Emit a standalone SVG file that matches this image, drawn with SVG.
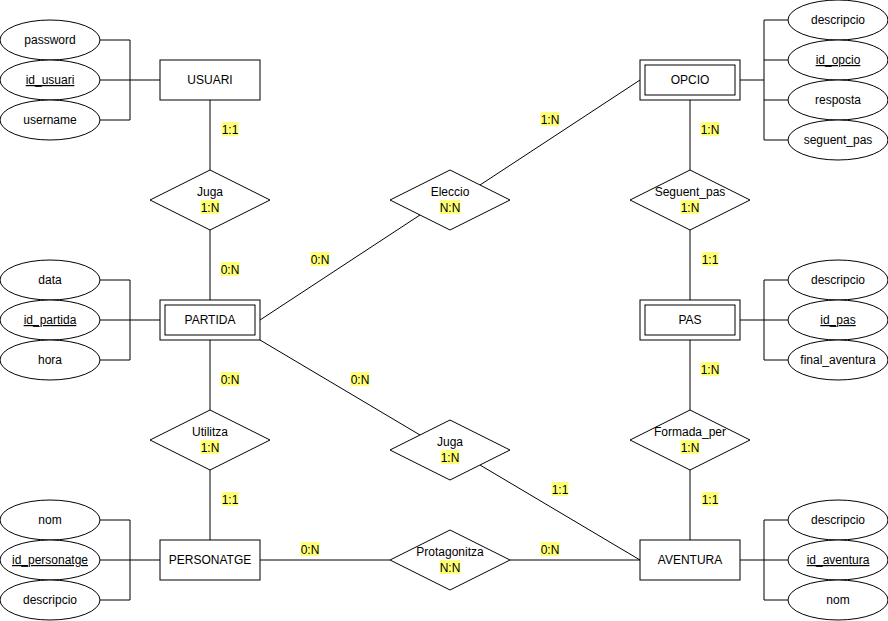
<svg xmlns="http://www.w3.org/2000/svg" width="888" height="621" viewBox="0 0 888 621">
<style>
text{font-family:"Liberation Sans",Arial,sans-serif;font-size:12px;fill:#000;text-anchor:middle}
.s{fill:#fff;stroke:#000;stroke-width:1}
.l{fill:none;stroke:#000;stroke-width:1}
.hl{fill:#ffff77}
.u{text-decoration:underline}
</style>
<rect width="888" height="621" fill="#fff"/>
<g id="connectors">
<path class="l" d="M100,40H130V120H100M100,80H160"/>
<path class="l" d="M100,280H130V360H100M100,320H160"/>
<path class="l" d="M100,520H130V600H100M100,560H160"/>
<path class="l" d="M788,20H764V140H788M788,60H764M788,100H764M740,80H764"/>
<path class="l" d="M788,280H764V360H788M740,320H788"/>
<path class="l" d="M788,520H764V600H788M740,560H788"/>
<path class="l" d="M210,100V170M210,230V300M210,340V410M210,470V540"/>
<path class="l" d="M690,100V170M690,230V300M690,340V410M690,470V540"/>
<path class="l" d="M260,560H390M510,560H640"/>
<path class="l" d="M260,320L420,215M480,185L640,80"/>
<path class="l" d="M260,340L420,435M480,465L640,560"/>
<g id="edge-labels">
<rect class="hl" x="221.6" y="122" width="16.8" height="14"/><text x="230" y="133.5">1:1</text>
<rect class="hl" x="220.6" y="262" width="18.8" height="14"/><text x="230" y="273.5">0:N</text>
<rect class="hl" x="220.6" y="372" width="18.8" height="14"/><text x="230" y="383.5">0:N</text>
<rect class="hl" x="221.6" y="492" width="16.8" height="14"/><text x="230" y="503.5">1:1</text>
<rect class="hl" x="300.6" y="542" width="18.8" height="14"/><text x="310" y="553.5">0:N</text>
<rect class="hl" x="540.6" y="542" width="18.8" height="14"/><text x="550" y="553.5">0:N</text>
<rect class="hl" x="310.6" y="252" width="18.8" height="14"/><text x="320" y="263.5">0:N</text>
<rect class="hl" x="540.6" y="112" width="18.8" height="14"/><text x="550" y="123.5">1:N</text>
<rect class="hl" x="350.6" y="372" width="18.8" height="14"/><text x="360" y="383.5">0:N</text>
<rect class="hl" x="551.6" y="482" width="16.8" height="14"/><text x="560" y="493.5">1:1</text>
<rect class="hl" x="700.6" y="122" width="18.8" height="14"/><text x="710" y="133.5">1:N</text>
<rect class="hl" x="701.6" y="252" width="16.8" height="14"/><text x="710" y="263.5">1:1</text>
<rect class="hl" x="700.6" y="362" width="18.8" height="14"/><text x="710" y="373.5">1:N</text>
<rect class="hl" x="701.6" y="492" width="16.8" height="14"/><text x="710" y="503.5">1:1</text>
</g>
</g>
<g id="attr-password"><ellipse class="s" cx="50" cy="40" rx="50" ry="20"/><text x="50" y="44">password</text></g>
<g id="attr-id_usuari"><ellipse class="s" cx="50" cy="80" rx="50" ry="20"/><text class="u" x="50" y="84">id_usuari</text></g>
<g id="attr-username"><ellipse class="s" cx="50" cy="120" rx="50" ry="20"/><text x="50" y="124">username</text></g>
<g id="attr-data"><ellipse class="s" cx="50" cy="280" rx="50" ry="20"/><text x="50" y="284">data</text></g>
<g id="attr-id_partida"><ellipse class="s" cx="50" cy="320" rx="50" ry="20"/><text class="u" x="50" y="324">id_partida</text></g>
<g id="attr-hora"><ellipse class="s" cx="50" cy="360" rx="50" ry="20"/><text x="50" y="364">hora</text></g>
<g id="attr-nom-p"><ellipse class="s" cx="50" cy="520" rx="50" ry="20"/><text x="50" y="524">nom</text></g>
<g id="attr-id_personatge"><ellipse class="s" cx="50" cy="560" rx="50" ry="20"/><text class="u" x="50" y="564">id_personatge</text></g>
<g id="attr-descripcio-p"><ellipse class="s" cx="50" cy="600" rx="50" ry="20"/><text x="50" y="604">descripcio</text></g>
<g id="attr-descripcio-o"><ellipse class="s" cx="838" cy="20" rx="50" ry="20"/><text x="838" y="24">descripcio</text></g>
<g id="attr-id_opcio"><ellipse class="s" cx="838" cy="60" rx="50" ry="20"/><text class="u" x="838" y="64">id_opcio</text></g>
<g id="attr-resposta"><ellipse class="s" cx="838" cy="100" rx="50" ry="20"/><text x="838" y="104">resposta</text></g>
<g id="attr-seguent_pas"><ellipse class="s" cx="838" cy="140" rx="50" ry="20"/><text x="838" y="144">seguent_pas</text></g>
<g id="attr-descripcio-pas"><ellipse class="s" cx="838" cy="280" rx="50" ry="20"/><text x="838" y="284">descripcio</text></g>
<g id="attr-id_pas"><ellipse class="s" cx="838" cy="320" rx="50" ry="20"/><text class="u" x="838" y="324">id_pas</text></g>
<g id="attr-final_aventura"><ellipse class="s" cx="838" cy="360" rx="50" ry="20"/><text x="838" y="364">final_aventura</text></g>
<g id="attr-descripcio-a"><ellipse class="s" cx="838" cy="520" rx="50" ry="20"/><text x="838" y="524">descripcio</text></g>
<g id="attr-id_aventura"><ellipse class="s" cx="838" cy="560" rx="50" ry="20"/><text class="u" x="838" y="564">id_aventura</text></g>
<g id="attr-nom-a"><ellipse class="s" cx="838" cy="600" rx="50" ry="20"/><text x="838" y="604">nom</text></g>
<g id="USUARI"><rect class="s" x="160" y="60" width="100" height="40"/><text x="210" y="84">USUARI</text></g>
<g id="PARTIDA"><rect class="s" x="160" y="300" width="100" height="40"/><rect class="l" x="165" y="305" width="90" height="30"/><text x="210" y="324">PARTIDA</text></g>
<g id="PERSONATGE"><rect class="s" x="160" y="540" width="100" height="40"/><text x="210" y="564">PERSONATGE</text></g>
<g id="OPCIO"><rect class="s" x="640" y="60" width="100" height="40"/><rect class="l" x="645" y="65" width="90" height="30"/><text x="690" y="84">OPCIO</text></g>
<g id="PAS"><rect class="s" x="640" y="300" width="100" height="40"/><rect class="l" x="645" y="305" width="90" height="30"/><text x="690" y="324">PAS</text></g>
<g id="AVENTURA"><rect class="s" x="640" y="540" width="100" height="40"/><text x="690" y="564">AVENTURA</text></g>
<g id="rel-Juga1"><polygon class="s" points="210,170 270,200 210,230 150,200"/><text x="210" y="196">Juga</text><rect class="hl" x="200.6" y="200" width="18.8" height="14"/><text x="210" y="211.5">1:N</text></g>
<g id="rel-Utilitza"><polygon class="s" points="210,410 270,440 210,470 150,440"/><text x="210" y="436">Utilitza</text><rect class="hl" x="200.6" y="440" width="18.8" height="14"/><text x="210" y="451.5">1:N</text></g>
<g id="rel-Eleccio"><polygon class="s" points="450,170 510,200 450,230 390,200"/><text x="450" y="196">Eleccio</text><rect class="hl" x="439.6" y="200" width="20.8" height="14"/><text x="450" y="211.5">N:N</text></g>
<g id="rel-Juga2"><polygon class="s" points="450,420 510,450 450,480 390,450"/><text x="450" y="446">Juga</text><rect class="hl" x="440.6" y="450" width="18.8" height="14"/><text x="450" y="461.5">1:N</text></g>
<g id="rel-Protagonitza"><polygon class="s" points="450,530 510,560 450,590 390,560"/><text x="450" y="556">Protagonitza</text><rect class="hl" x="439.6" y="560" width="20.8" height="14"/><text x="450" y="571.5">N:N</text></g>
<g id="rel-Seguent_pas"><polygon class="s" points="690,170 750,200 690,230 630,200"/><text x="690" y="196">Seguent_pas</text><rect class="hl" x="680.6" y="200" width="18.8" height="14"/><text x="690" y="211.5">1:N</text></g>
<g id="rel-Formada_per"><polygon class="s" points="690,410 750,440 690,470 630,440"/><text x="690" y="436">Formada_per</text><rect class="hl" x="680.6" y="440" width="18.8" height="14"/><text x="690" y="451.5">1:N</text></g>
</svg>
